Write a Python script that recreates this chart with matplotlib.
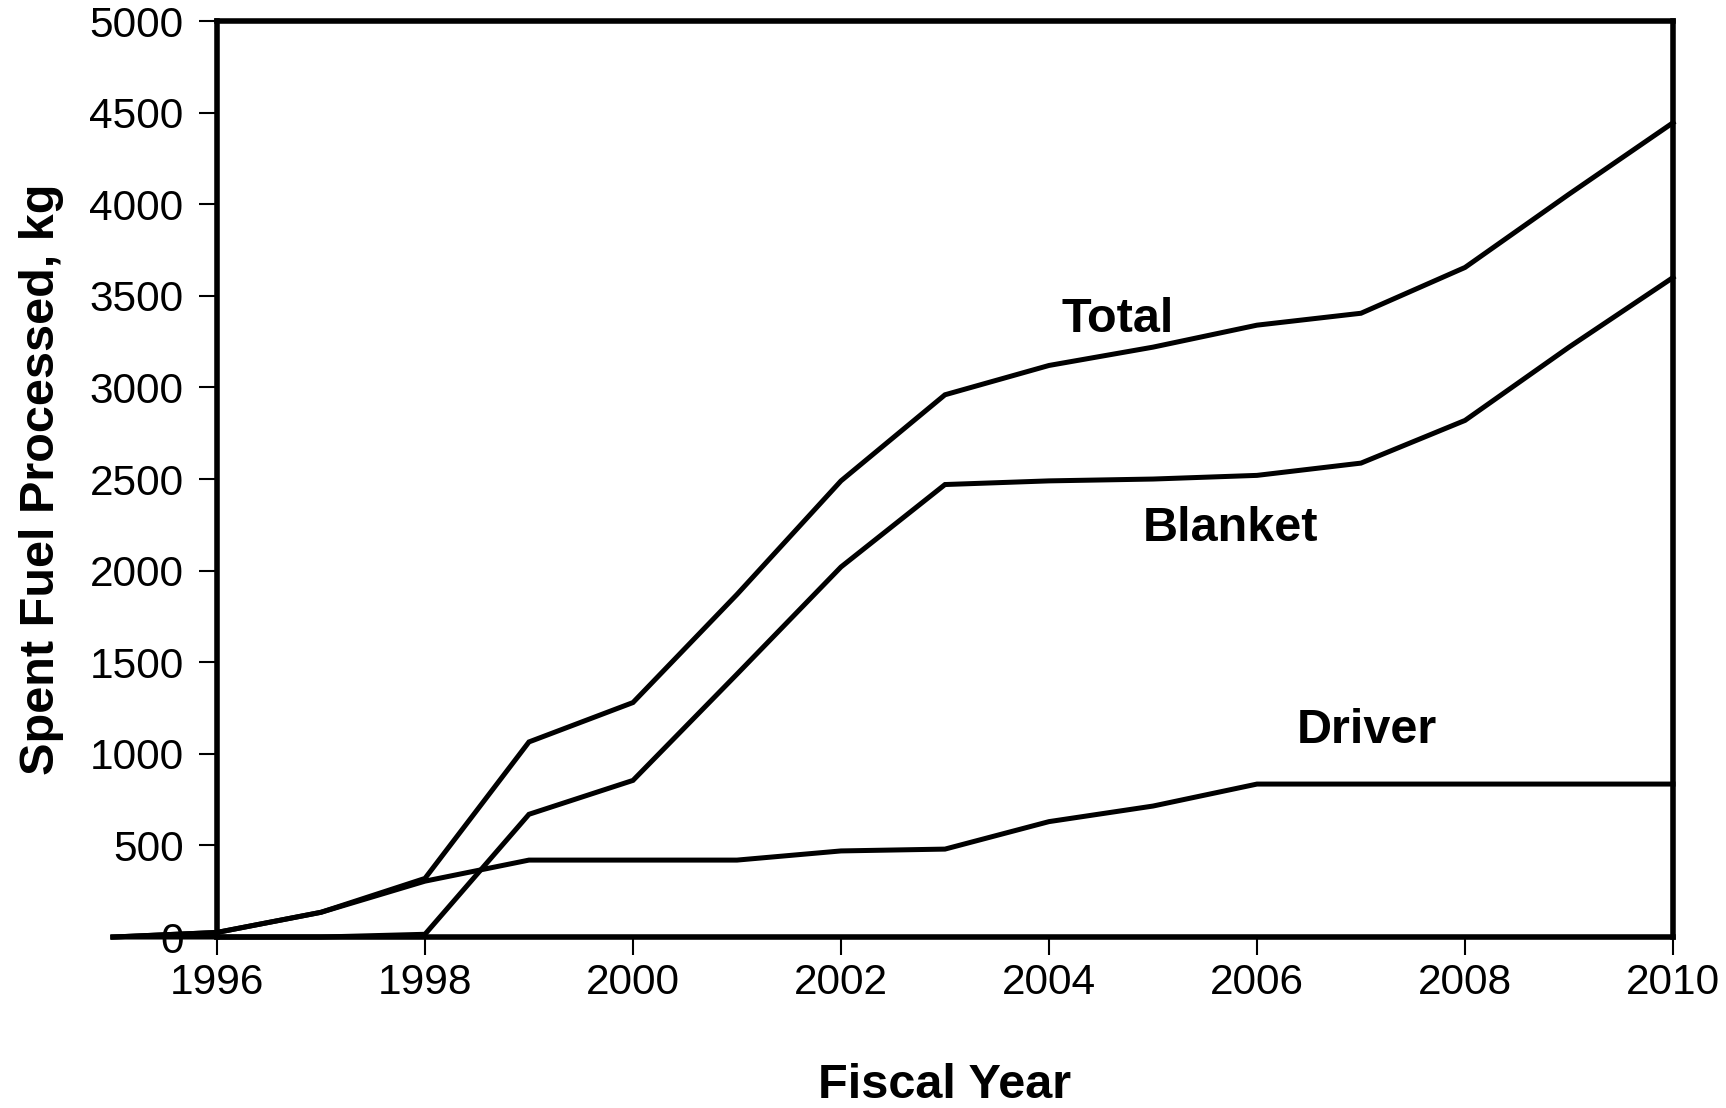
import numpy as np
import matplotlib.pyplot as plt

plt.rcParams['font.family'] = ['Liberation Sans', 'DejaVu Sans']

years = [1995, 1996, 1997, 1998, 1999, 2000, 2001, 2002, 2003, 2004, 2005, 2006, 2007, 2008, 2009, 2010]
total = [0, 25, 135, 320, 1065, 1280, 1870, 2490, 2960, 3120, 3220, 3340, 3405, 3655, 4055, 4445]
blanket = [0, 0, 0, 15, 670, 855, 1435, 2020, 2470, 2490, 2500, 2520, 2587, 2820, 3220, 3600]
driver = [0, 25, 135, 305, 420, 420, 420, 470, 480, 630, 715, 835, 835, 835, 835, 835]

labels = ['Total', 'Blanket', 'Driver']
label_pos = [(2004.66, 3373), (2005.75, 2232), (2007.06, 1130)]

fig = plt.figure(figsize=(17.26, 11.08), dpi=100)
ax = fig.add_axes([0.1257, 0.1543, 0.8436, 0.8267])

for series in [total, blanket, driver]:
    ax.plot(years, series, color='black', lw=3.6, clip_on=False, solid_joinstyle='miter', zorder=3)

for lab, (x, y) in zip(labels, label_pos):
    ax.text(x, y, lab, fontsize=35, fontweight='bold', ha='center', va='center')

ax.set_xlim(1996, 2010)
ax.set_ylim(0, 5000)
ax.set_xticks(np.arange(1996, 2011, 2))
ax.set_yticks(np.arange(0, 5001, 500))

for s in ax.spines.values():
    s.set_linewidth(4)

ax.tick_params(axis='both', direction='out', labelsize=30.5, width=1.5, length=13, pad=11)
ax.tick_params(axis='x', pad=6)

ax.set_xlabel('Fiscal Year', fontsize=35, fontweight='bold')
ax.set_ylabel('Spent Fuel Processed, kg', fontsize=35, fontweight='bold')
ax.xaxis.set_label_coords(0.5, -0.138)
ax.yaxis.set_label_coords(-0.105, 0.5)

plt.savefig('out.png', dpi=100)
